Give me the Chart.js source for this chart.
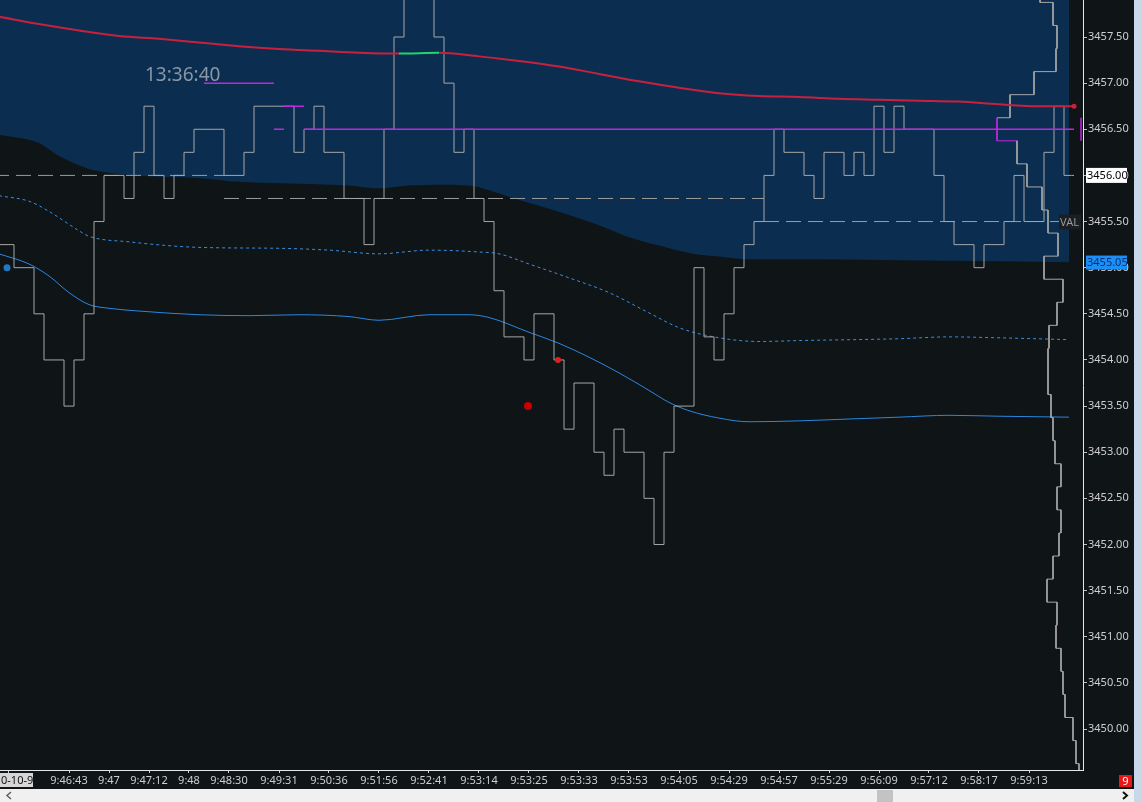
<!DOCTYPE html>
<html>
<head>
<meta charset="utf-8">
<script src="https://cdn.jsdelivr.net/npm/chart.js@4.4.1/dist/chart.umd.min.js"></script>
<style>
  html, body { margin: 0; padding: 0; background: #0f1417; overflow: hidden; }
  #chart { display: block; }
</style>
</head>
<body>
<canvas id="chart" width="1141" height="802"></canvas>
<script>
// last trade price per bar (bar 0 is the first, partly hidden, bar)
var closes = [
  3455.25, 3455.25, 3455.00, 3455.00, 3454.50, 3454.00, 3454.00, 3453.50, 3454.00, 3454.50,
  3455.50, 3456.00, 3456.00, 3455.75, 3456.25, 3456.75, 3456.00, 3455.75, 3456.00, 3456.25,
  3456.50, 3456.50, 3456.50, 3456.00, 3456.00, 3456.25, 3456.75, 3456.75, 3456.75, 3456.75,
  3456.25, 3456.50, 3456.75, 3456.25, 3456.25, 3455.75, 3455.75, 3455.25, 3455.75, 3456.50,
  3457.50, 3458.25, 3458.25, 3458.25, 3457.50, 3457.00, 3456.25, 3456.50, 3455.75, 3455.50,
  3454.75, 3454.25, 3454.25, 3454.00, 3454.50, 3454.50, 3454.00, 3453.25, 3453.75, 3453.75,
  3453.00, 3452.75, 3453.25, 3453.00, 3453.00, 3452.50, 3452.00, 3453.00, 3453.50, 3453.50,
  3455.00, 3454.25, 3454.00, 3454.50, 3455.00, 3455.25, 3455.50, 3456.00, 3456.50, 3456.25,
  3456.25, 3456.00, 3455.75, 3456.25, 3456.25, 3456.00, 3456.25, 3456.00, 3456.75, 3456.25,
  3456.75, 3456.50, 3456.50, 3456.50, 3456.00, 3455.50, 3455.25, 3455.25, 3455.00, 3455.25,
  3455.25, 3455.50, 3456.00, 3455.50, 3455.50, 3456.25, 3456.75, 3456.00
];

var xTickBars = [1, 7, 11, 15, 19, 23, 28, 33, 38, 43, 48, 53, 58, 63, 68, 73, 78, 83, 88, 93, 98, 103];
var xTickLabels = ['0-10-9', '9:46:43', '9:47', '9:47:12', '9:48', '9:48:30', '9:49:31', '9:50:36',
  '9:51:56', '9:52:41', '9:53:14', '9:53:25', '9:53:33', '9:53:53', '9:54:05', '9:54:29',
  '9:54:57', '9:55:29', '9:56:09', '9:57:12', '9:58:17', '9:59:13'];
var yTicks = [3450.00, 3450.50, 3451.00, 3451.50, 3452.00, 3452.50, 3453.00, 3453.50,
  3454.00, 3454.50, 3455.00, 3455.50, 3456.00, 3456.50, 3457.00, 3457.50];

// red moving average
var redBars = [0, 4, 8, 12, 16, 20, 24, 28, 32, 36, 40, 44, 48, 52, 56, 60, 64, 68, 72, 76,
  80, 84, 88, 92, 96, 100, 104, 107.5];
var redLine = [3457.72, 3457.64, 3457.57, 3457.51, 3457.48, 3457.44, 3457.40, 3457.37, 3457.35,
  3457.33, 3457.32, 3457.33, 3457.29, 3457.24, 3457.18, 3457.10, 3457.02, 3456.95, 3456.89,
  3456.86, 3456.85, 3456.83, 3456.82, 3456.81, 3456.80, 3456.77, 3456.75, 3456.75];

// solid blue line
var vwapBars = [0, 3, 5, 7, 9, 11, 14, 20, 25, 30, 35, 38, 43, 47, 49, 53, 56, 59, 62, 65, 67,
  69, 72, 75, 80, 85, 90, 95, 100, 107];
var vwapLine = [3455.15, 3455.04, 3454.91, 3454.73, 3454.60, 3454.56, 3454.53, 3454.49, 3454.48,
  3454.49, 3454.47, 3454.43, 3454.49, 3454.49, 3454.46, 3454.30, 3454.18, 3454.03, 3453.86,
  3453.67, 3453.54, 3453.45, 3453.37, 3453.33, 3453.34, 3453.36, 3453.38, 3453.40, 3453.39, 3453.38];

// dotted blue line
var dotBars = [0, 3, 5, 8, 9, 13, 20, 28, 33, 38, 43, 48, 50, 53, 57, 61, 65, 68, 71, 76, 80,
  90, 95, 100, 107];
var dotLine = [3455.78, 3455.72, 3455.61, 3455.40, 3455.34, 3455.28, 3455.22, 3455.21, 3455.19,
  3455.15, 3455.19, 3455.17, 3455.15, 3455.04, 3454.89, 3454.73, 3454.51, 3454.35, 3454.26,
  3454.20, 3454.21, 3454.23, 3454.25, 3454.24, 3454.22];

// lower edge of the blue shaded zone
var bandBars = [0, 4, 6, 9, 11, 15, 20, 24, 30, 35, 38, 41, 44, 47, 49, 51, 54, 57, 60, 63, 66,
  69, 72, 75, 80, 90, 100, 107];
var bandLine = [3456.44, 3456.35, 3456.21, 3456.07, 3456.03, 3455.99, 3455.97, 3455.93, 3455.91,
  3455.89, 3455.86, 3455.89, 3455.90, 3455.89, 3455.84, 3455.77, 3455.67, 3455.57, 3455.46,
  3455.33, 3455.24, 3455.16, 3455.12, 3455.09, 3455.09, 3455.08, 3455.07, 3455.06];

// developing POC and VAL: [first bar, last bar, price]
var pocRuns = [[21, 27, 3457.00], [28, 28, 3456.50], [29, 30, 3456.75], [31, 107, 3456.50]];
var valRuns = [[0, 22, 3456.00], [23, 76, 3455.75], [77, 106, 3455.50]];

// price profile on the right edge (level -> bar position)
var profileLevels = [3458.00, 3457.75, 3457.50, 3457.25, 3457.00, 3456.75, 3456.50, 3456.25,
  3456.00, 3455.75, 3455.50, 3455.25, 3455.00, 3454.75, 3454.50, 3454.25, 3454.00, 3453.75,
  3453.50, 3453.25, 3453.00, 3452.75, 3452.50, 3452.25, 3452.00, 3451.75, 3451.50, 3451.25,
  3451.00, 3450.75, 3450.50, 3450.25, 3450.00, 3449.75, 3449.50];
var profileBars = [104.1, 105.4, 105.8, 105.7, 103.5, 101.1, 99.8, 101.8, 102.8, 104.3, 104.9,
  105.9, 104.5, 106.4, 105.8, 105.0, 104.9, 104.9, 105.2, 105.4, 105.6, 106.2, 105.8, 106.2,
  106.0, 105.4, 104.8, 105.8, 105.7, 106.2, 106.4, 106.6, 107.4, 107.7, 108.0];
var pocPrice = 3456.50;

// trade markers
var blueMarks = [{ x: 0.8, y: 3455.00 }];
var redMarks = [{ x: 52.9, y: 3453.50 }, { x: 55.9, y: 3454.00 }];

var markPrice = 3456.00;
var lastPrice = 3455.05;
var clockText = '13:36:40';

// ---- builders ----
function pairs(xs, ys) {
  var out = [];
  for (var i = 0; i < xs.length; i++) out.push({ x: xs[i], y: ys[i] });
  return out;
}

function stepPoints() {
  var out = [];
  for (var i = 0; i < closes.length; i++) out.push({ x: i, y: closes[i] });
  out.push({ x: closes.length - 0.5, y: closes[closes.length - 1] });
  return out;
}

function runPoints(runs) {
  var out = [];
  for (var i = 0; i < runs.length; i++) {
    var r = runs[i];
    out.push({ x: r[0] - 0.5, y: r[2] });
    out.push({ x: r[1] + 0.5, y: r[2] });
    out.push({ x: r[1] + 0.5, y: null });
  }
  return out;
}

function profilePoints() {
  var out = [];
  for (var i = 0; i < profileLevels.length; i++) {
    out.push({ x: profileBars[i], y: profileLevels[i] + 0.125 });
    out.push({ x: profileBars[i], y: profileLevels[i] - 0.125 });
  }
  return out;
}

var FONT = "'Noto Sans', 'DejaVu Sans', sans-serif";

function box(ctx, x, y, w, h, bg, fg, text, size) {
  ctx.fillStyle = bg;
  ctx.fillRect(x, y, w, h);
  ctx.fillStyle = fg;
  ctx.font = (size || 11) + 'px ' + FONT;
  ctx.textAlign = 'left';
  ctx.textBaseline = 'middle';
  ctx.fillText(text, x + 1, y + h / 2 + 0.5);
}

// no automatic padding round the axes, the plot runs to the canvas edges
function noPad(s) {
  s.paddingTop = 0;
  s.paddingBottom = 0;
  s.paddingLeft = 0;
  s.paddingRight = 0;
}

var decorations = {
  id: 'decorations',
  beforeDraw: function(chart) {
    var ctx = chart.ctx;
    ctx.save();
    ctx.fillStyle = '#0f1417';
    ctx.fillRect(0, 0, chart.width, chart.height);
    ctx.restore();
  },
  afterDatasetsDraw: function(chart) {
    var ctx = chart.ctx, y = chart.scales.y, area = chart.chartArea;
    ctx.save();
    ctx.fillStyle = '#8896a5';
    ctx.font = '19px ' + FONT;
    ctx.textAlign = 'left';
    ctx.textBaseline = 'middle';
    ctx.fillText(clockText, 145, 76);

    // POC tick at the right edge of the plot
    ctx.strokeStyle = '#c026e0';
    ctx.lineWidth = 1.5;
    ctx.beginPath();
    ctx.moveTo(area.right - 2, y.getPixelForValue(pocPrice + 0.125));
    ctx.lineTo(area.right - 2, y.getPixelForValue(pocPrice - 0.125));
    ctx.stroke();

    var vy = y.getPixelForValue(valRuns[valRuns.length - 1][2]);
    box(ctx, area.right - 24, vy - 7, 22, 15, '#1b1f22', '#9a9a9a', 'VAL');
    ctx.restore();
  },
  afterDraw: function(chart) {
    var ctx = chart.ctx, y = chart.scales.y, area = chart.chartArea;
    ctx.save();
    var my = y.getPixelForValue(markPrice);
    box(ctx, area.right + 3, my - 7.5, 41, 15, '#ffffff', '#000000', markPrice.toFixed(2));
    var ly = y.getPixelForValue(lastPrice);
    box(ctx, area.right + 3, ly - 7.5, 41, 14, '#1b8ff5', '#0c2f70', lastPrice.toFixed(2));

    // date label under the first tick
    box(ctx, 0, 773, 33, 14, '#d6d6d6', '#111111', xTickLabels[0]);

    // red counter box
    ctx.fillStyle = '#e81818';
    ctx.fillRect(1119, 775, 13, 12);
    ctx.fillStyle = '#ffffff';
    ctx.font = '11px ' + FONT;
    ctx.textAlign = 'center';
    ctx.textBaseline = 'middle';
    ctx.fillText('9', 1125.5, 781.5);

    // scroll bar and right strip
    ctx.fillStyle = '#f0f0f0';
    ctx.fillRect(0, 789, chart.width, 13);
    ctx.fillStyle = '#c3c3c3';
    ctx.fillRect(877, 790, 16, 12);
    ctx.fillStyle = '#c8d8ea';
    ctx.fillRect(1134, 0, 7, chart.height);

    ctx.lineWidth = 1.5;
    ctx.strokeStyle = '#606060';
    ctx.beginPath();
    ctx.moveTo(11, 792); ctx.lineTo(7, 795.5); ctx.lineTo(11, 799);
    ctx.stroke();
    ctx.strokeStyle = '#111111';
    ctx.lineWidth = 2;
    ctx.beginPath();
    ctx.moveTo(1123, 792); ctx.lineTo(1127, 795.5); ctx.lineTo(1123, 799);
    ctx.stroke();
    ctx.restore();
  }
};

var RED = '#c8203e', GREEN = '#22d36a', MAGENTA = '#c026e0', GRAY = '#a6a6a6';

var chart = new Chart(document.getElementById('chart'), {
  type: 'line',
  data: {
    datasets: [
      {
        label: 'price', data: stepPoints(), stepped: 'middle',
        borderColor: GRAY, borderWidth: 1, pointRadius: 0, order: 5
      },
      {
        label: 'profile', data: profilePoints(),
        borderColor: GRAY, borderWidth: 1, pointRadius: 0, order: 6,
        segment: {
          borderColor: function(c) {
            return profileLevels[Math.floor(c.p0DataIndex / 2)] === pocPrice ? MAGENTA : undefined;
          }
        }
      },
      {
        label: 'ma', data: pairs(redBars, redLine),
        borderColor: RED, borderWidth: 2, cubicInterpolationMode: 'monotone', order: 3,
        pointRadius: function(c) { return c.dataIndex === redBars.length - 1 ? 2.5 : 0; },
        pointBackgroundColor: RED, pointBorderWidth: 0,
        segment: {
          borderColor: function(c) {
            var a = Math.round(c.p0.parsed.x), b = Math.round(c.p1.parsed.x);
            return closes[a] > c.p0.parsed.y && closes[b] > c.p1.parsed.y ? GREEN : undefined;
          }
        }
      },
      {
        label: 'poc', data: runPoints(pocRuns), spanGaps: false,
        borderColor: MAGENTA, borderWidth: 1.5, pointRadius: 0, order: 4
      },
      {
        label: 'val', data: runPoints(valRuns), spanGaps: false,
        borderColor: '#9c9c9c', borderWidth: 1, borderDash: [15, 7], pointRadius: 0, order: 8
      },
      {
        label: 'vwap', data: pairs(vwapBars, vwapLine),
        borderColor: '#2a86e0', borderWidth: 1, cubicInterpolationMode: 'monotone',
        pointRadius: 0, order: 7
      },
      {
        label: 'band', data: pairs(dotBars, dotLine),
        borderColor: '#3a8ee0', borderWidth: 1, borderDash: [3, 3], cubicInterpolationMode: 'monotone',
        pointRadius: 0, order: 7
      },
      {
        label: 'zone', data: pairs(bandBars, bandLine), fill: 'end',
        backgroundColor: '#0b2e50', borderWidth: 0, borderColor: 'rgba(0,0,0,0)',
        cubicInterpolationMode: 'monotone', pointRadius: 0, order: 10
      },
      {
        label: 'buys', data: blueMarks, showLine: false,
        pointRadius: 3.5, pointBackgroundColor: '#1f78c1', pointBorderWidth: 0, order: 1
      },
      {
        label: 'sells', data: redMarks, showLine: false,
        pointRadius: [4, 3], pointBackgroundColor: ['#c40000', '#e02020'], pointBorderWidth: 0, order: 1
      }
    ]
  },
  options: {
    responsive: false,
    animation: false,
    devicePixelRatio: 1,
    events: [],
    layout: { autoPadding: false, padding: { left: 0, top: 0, right: 10, bottom: 15 } },
    plugins: { legend: { display: false }, tooltip: { enabled: false } },
    scales: {
      x: {
        type: 'linear', min: 0.1, max: 108.4,
        afterFit: function(s) { s.height = 17; noPad(s); },
        afterBuildTicks: function(s) {
          s.ticks = xTickBars.map(function(v) { return { value: v }; });
        },
        ticks: {
          autoSkip: false, maxRotation: 0, padding: 1, color: '#cfcfcf',
          font: { family: FONT, size: 11 },
          callback: function(v, i) { return i === 0 ? '' : xTickLabels[i]; }
        },
        grid: { drawOnChartArea: false, color: '#d0d0d0', tickLength: 3 },
        border: { color: '#e6e6e6', width: 1 }
      },
      y: {
        position: 'right', min: 3449.556, max: 3457.901,
        afterFit: function(s) { s.width = 48; noPad(s); },
        afterBuildTicks: function(s) {
          s.ticks = yTicks.map(function(v) { return { value: v }; });
        },
        ticks: {
          padding: 1, color: '#cfcfcf', font: { family: FONT, size: 11 },
          callback: function(v) { return v.toFixed(2); }
        },
        grid: { drawOnChartArea: false, color: '#c0c0c0', tickLength: 4 },
        border: { color: '#e6e6e6', width: 1 }
      }
    }
  },
  plugins: [decorations]
});
</script>
</body>
</html>
